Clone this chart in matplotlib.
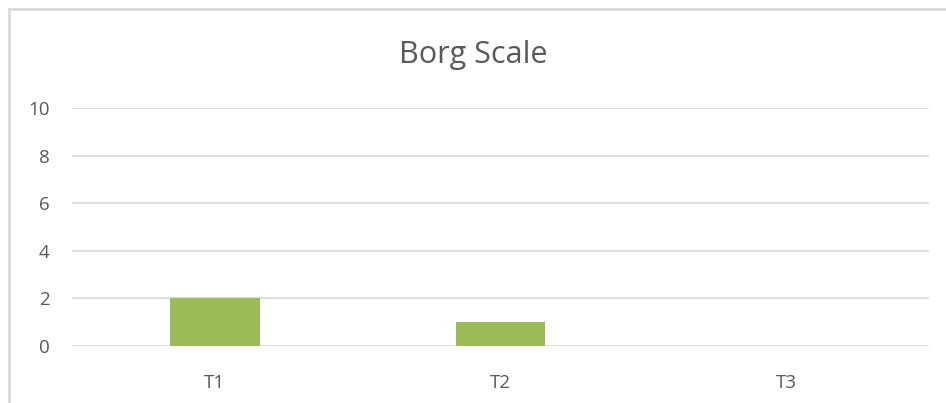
import matplotlib.pyplot as plt
from matplotlib.patches import Rectangle

categories = ["T1", "T2", "T3"]
values = [2, 1, 0]

plt.rcParams['font.family'] = ['Open Sans', 'DejaVu Sans']

fig = plt.figure(figsize=(9.46, 4.03), dpi=100)
ax = fig.add_axes([72 / 946, 1 - 346 / 403, (929 - 72) / 946, (346 - 108) / 403])

# outer chart border, runs off the right and bottom edges
fig.patches.append(Rectangle((8.5 / 946, -0.1), 1.0, 1 - 9.5 / 403 + 0.1,
                             transform=fig.transFigure, fill=False,
                             edgecolor="#D9D9D9", linewidth=2))

x = range(len(categories))
ax.bar(x, values, width=0.315, color="#9BBB59", zorder=3)

ax.set_xlim(-0.5, 2.5)
ax.set_ylim(0, 10)
ax.set_yticks([0, 2, 4, 6, 8, 10])
ax.set_xticks(list(x))
ax.set_xticklabels(categories)
ax.grid(axis="y", color="#D9D9D9", linewidth=1.2, zorder=0)
for s in ax.spines.values():
    s.set_visible(False)
ax.tick_params(length=0, labelsize=13.5, labelcolor="#595959")
ax.tick_params(axis="y", pad=16)
ax.tick_params(axis="x", pad=20)

fig.text(0.5, 1 - 55 / 403, "Borg Scale", ha="center", va="center",
         fontsize=22, color="#595959")

fig.savefig("out.png", dpi=100)
